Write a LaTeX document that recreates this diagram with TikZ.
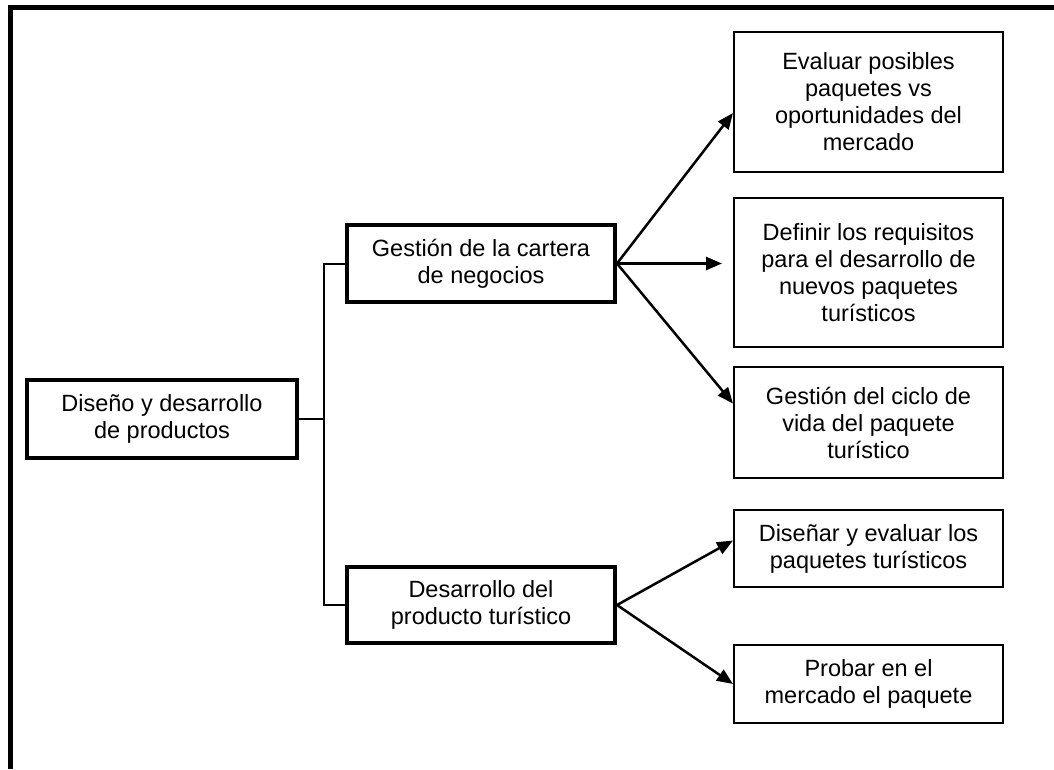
\documentclass[tikz,border=0pt]{standalone}
\usepackage{fontspec}
\setmainfont{Liberation Sans}
\usepackage{tikz}
\usetikzlibrary{arrows.meta,positioning}

\begin{document}
\begin{tikzpicture}[x=1pt,y=-1pt,
  every node/.style={font=\fontsize{23.5}{27}\selectfont,align=center},
  mb/.style={draw,line width=4pt,minimum width=268pt,inner sep=0pt},
  sb/.style={draw,line width=2pt,minimum width=269pt,inner sep=0pt},
  ln/.style={line width=2pt},
  e/.style={-{Triangle[length=16pt,width=13pt]},line width=2.5pt}]
 \useasboundingbox (0,0) rectangle (1054,769);
 \draw[line width=5pt] (10.5,769) -- (10.5,7.5) -- (1054,7.5);
 \node[mb,minimum width=270pt,minimum height=78pt] (root) at (162,419) {Diseño y desarrollo\\de productos};
 \node[mb,minimum height=77pt] (gc) at (481,263.5) {Gestión de la cartera\\de negocios};
 \node[mb,minimum height=76pt] (dp) at (481,605) {Desarrollo del\\producto turístico};
 \node[sb,minimum height=140pt] (e1) at (868.5,102) {Evaluar posibles\\paquetes vs\\oportunidades del\\mercado};
 \node[sb,minimum height=149pt] (e2) at (868.5,272.5) {Definir los requisitos\\para el desarrollo de\\nuevos paquetes\\turísticos};
 \node[sb,minimum height=111pt] (e3) at (868.5,422.5) {Gestión del ciclo de\\vida del paquete\\turístico};
 \node[sb,minimum height=77pt] (e4) at (868.5,548.5) {Diseñar y evaluar los\\paquetes turísticos};
 \node[sb,minimum height=78pt] (e5) at (868.5,684) {Probar en el\\mercado el paquete};
 \coordinate (t2) at (722,263.5);
 % tree on the left
 \draw[ln] (root.east) -- ++(25,0) |- (gc.west);
 \draw[ln] (root.east) -- ++(25,0) |- (dp.west);
 % arrows to the tasks
 \draw[e] (gc.east) -- ([yshift=-11pt]e1.west);
 \draw[e] (gc.east) -- (t2);
 \draw[e] (gc.east) -- ([yshift=19pt]e3.west);
 \draw[e] (dp.east) -- ([yshift=8pt]e4.west);
 \draw[e] (dp.east) -- (e5.west);
\end{tikzpicture}
\end{document}
